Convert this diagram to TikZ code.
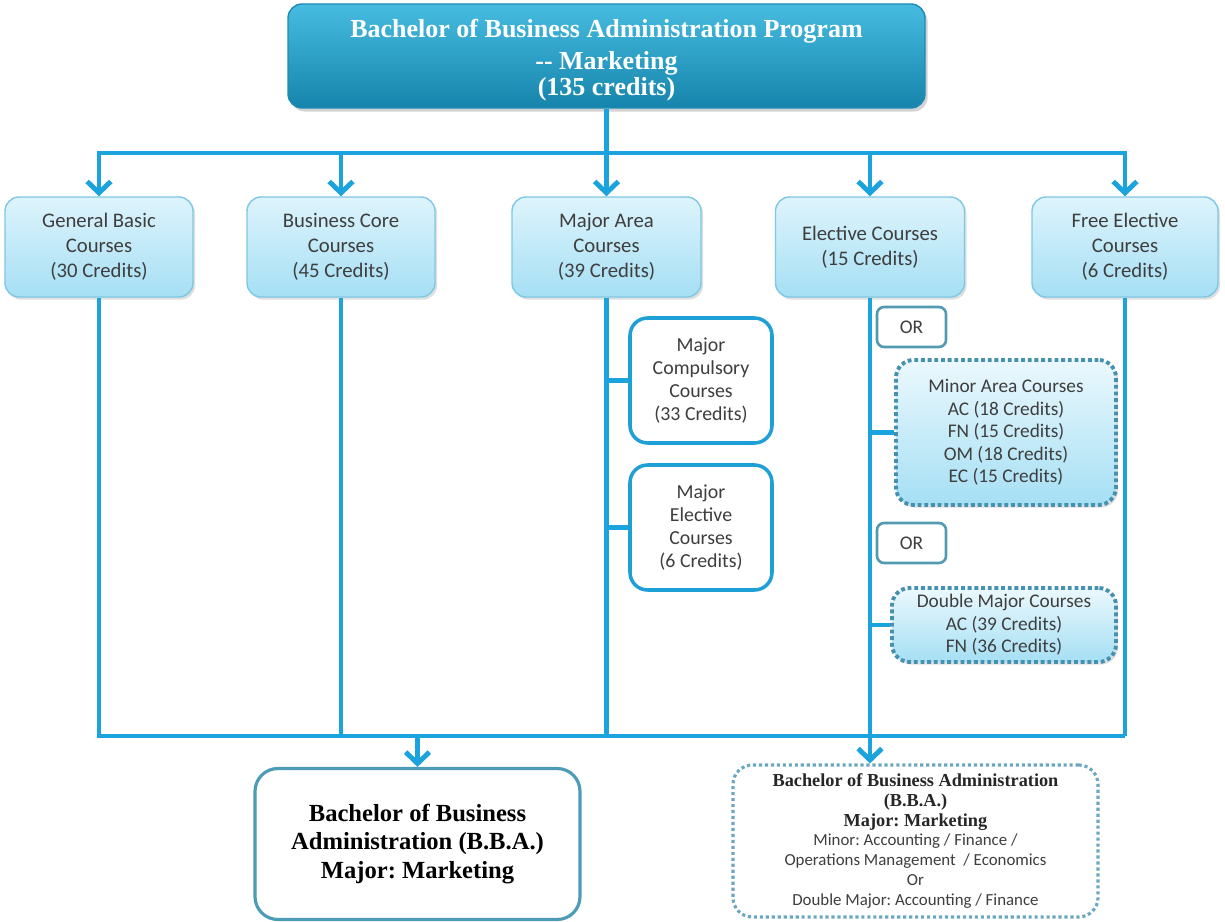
\documentclass[tikz,border=0pt]{standalone}
\usepackage{fontspec}
\setmainfont{Liberation Serif}
\newfontfamily\carl{Carlito}
\usetikzlibrary{arrows.meta,shadows}
\frenchspacing
\definecolor{lnc}{RGB}{27,163,222}
\definecolor{toptop}{RGB}{70,188,224}
\definecolor{topbot}{RGB}{22,132,172}
\definecolor{topedge}{RGB}{30,140,180}
\definecolor{rowtop}{RGB}{222,244,252}
\definecolor{rowbot}{RGB}{165,223,244}
\definecolor{rowedge}{RGB}{125,200,226}
\definecolor{txtc}{RGB}{62,62,62}
\definecolor{tealc}{RGB}{82,155,178}
\definecolor{dotc}{RGB}{70,145,175}
\definecolor{subblue}{RGB}{30,160,215}
\begin{document}
\begin{tikzpicture}[x=0.02cm,y=-0.02cm,
  sz/.style 2 args={minimum width=#1*0.02cm, minimum height=#2*0.02cm, inner sep=1pt},
  ln/.style={draw=lnc, line width=2.8pt},
  arr/.style={-{Straight Barb[length=6.5pt,width=13.5pt]}},
  topbox/.style={rounded corners=8pt, draw=topedge, line width=0.8pt, top color=toptop, bottom color=topbot,
    text=white, align=center, font=\fontsize{14.8}{14.4}\selectfont\bfseries,
    drop shadow={opacity=0.35, shadow xshift=1.5pt, shadow yshift=-2pt}},
  rowbox/.style={rounded corners=8pt, draw=rowedge, line width=0.8pt, top color=rowtop, bottom color=rowbot,
    text=txtc, align=center, font=\carl\fontsize{11.8}{14.2}\selectfont,
    drop shadow={opacity=0.25, shadow xshift=1.2pt, shadow yshift=-1.5pt}},
  subbox/.style={rounded corners=10pt, draw=subblue, line width=2pt, fill=white,
    text=txtc, align=center, font=\carl\fontsize{11.3}{13}\selectfont},
  orbox/.style={rounded corners=4pt, draw=tealc, line width=1.5pt, fill=white,
    text=txtc, font=\carl\fontsize{11}{13}\selectfont},
  dotbox/.style={rounded corners=10pt, draw=dotc, line width=2.2pt, dash pattern=on 2.2pt off 1.6pt,
    top color=rowtop!60!white, bottom color=rowbot,
    text=txtc, align=center, font=\carl\fontsize{11}{12.8}\selectfont,
    drop shadow={opacity=0.25, shadow xshift=1.2pt, shadow yshift=-1.5pt}},
  res1box/.style={rounded corners=13pt, draw=tealc!90!lnc, line width=1.8pt, fill=white,
    text=black, align=center, font=\fontsize{14}{16}\selectfont\bfseries},
  res2box/.style={rounded corners=11pt, draw=dotc!80!white, line width=1.8pt, dash pattern=on 1.8pt off 1.6pt, fill=white,
    text=txtc, align=center, font=\carl\fontsize{9.6}{11.3}\selectfont}
]
\useasboundingbox (0,0) rectangle (1225,922);

% nodes
\node[topbox, sz={637}{104}] (top) at (606.5,56) {\rule{0pt}{15pt}Bachelor of Business Administration Program\\[4pt] -{}- Marketing\\ (135 credits)};

\node[rowbox, sz={188}{100}] (gb) at (99,247) {General Basic\\Courses\\(30 Credits)};
\node[rowbox, sz={188}{100}] (bc) at (341,247) {Business Core\\Courses\\(45 Credits)};
\node[rowbox, sz={189}{100}] (ma) at (606.5,247) {Major Area\\Courses\\(39 Credits)};
\node[rowbox, sz={189}{100}] (el) at (870,247) {Elective Courses\\(15 Credits)};
\node[rowbox, sz={186}{100}] (fe) at (1125,247) {Free Elective\\Courses\\(6 Credits)};

\node[subbox, sz={142}{125}] (mc) at (701,380.5) {Major\\Compulsory\\Courses\\(33 Credits)};
\node[subbox, sz={142}{125}] (me) at (701,527.5) {Major\\Elective\\Courses\\(6 Credits)};

\node[orbox, sz={69}{40}] (or1) at (911.5,327) {OR};
\node[dotbox, sz={220}{145}] (minor) at (1006,432.5) {Minor Area Courses\\AC (18 Credits)\\FN (15 Credits)\\OM (18 Credits)\\EC (15 Credits)};
\node[orbox, sz={69}{40}] (or2) at (911.5,543) {OR};
\node[dotbox, sz={224}{74}] (dbl) at (1004,625) {Double Major Courses\\AC (39 Credits)\\FN (36 Credits)};

\node[res1box, sz={325}{151}] (res1) at (417.5,844) {Bachelor of Business\\Administration (B.B.A.)\\Major: Marketing};
\node[res2box, sz={365}{152}] (res2) at (915.5,841) {{\rmfamily\bfseries\color{black!85}\fontsize{10.4}{11.3}\selectfont Bachelor of Business Administration}\\{\rmfamily\bfseries\color{black!85}\fontsize{10.4}{11.3}\selectfont (B.B.A.)}\\{\rmfamily\bfseries\color{black!85}\fontsize{10.4}{11.3}\selectfont Major: Marketing}\\Minor: Accounting / Finance /\\Operations Management~ / Economics\\Or\\Double Major: Accounting / Finance};

% coordinates
\coordinate (hub) at (606.5,153);
\coordinate (bus) at (1125,736);

% top connectors
\draw[ln] (top) -- (hub);
\draw[ln,arr] (hub) -| (gb);
\draw[ln,arr] (hub) -| (bc);
\draw[ln,arr] (hub) -- (ma);
\draw[ln,arr] (hub) -| (el);
\draw[ln,arr] (hub) -| (fe);

% bottom connectors
\draw[ln] (gb) |- (bus);
\draw[ln] (bc) -- (bc |- bus);
\draw[ln] (ma) -- (ma |- bus);
\draw[ln] (fe) -- (fe |- bus);
\draw[ln,arr] (res1 |- bus) -- (res1);
\draw[ln,arr] (el) -- (el |- res2.north);

% branches
\draw[ln] (mc.west) -- (mc.west -| ma);
\draw[ln] (me.west) -- (me.west -| ma);
\draw[ln] (minor.west) -- (minor.west -| el);
\draw[ln] (dbl.west) -- (dbl.west -| el);
\end{tikzpicture}
\end{document}
